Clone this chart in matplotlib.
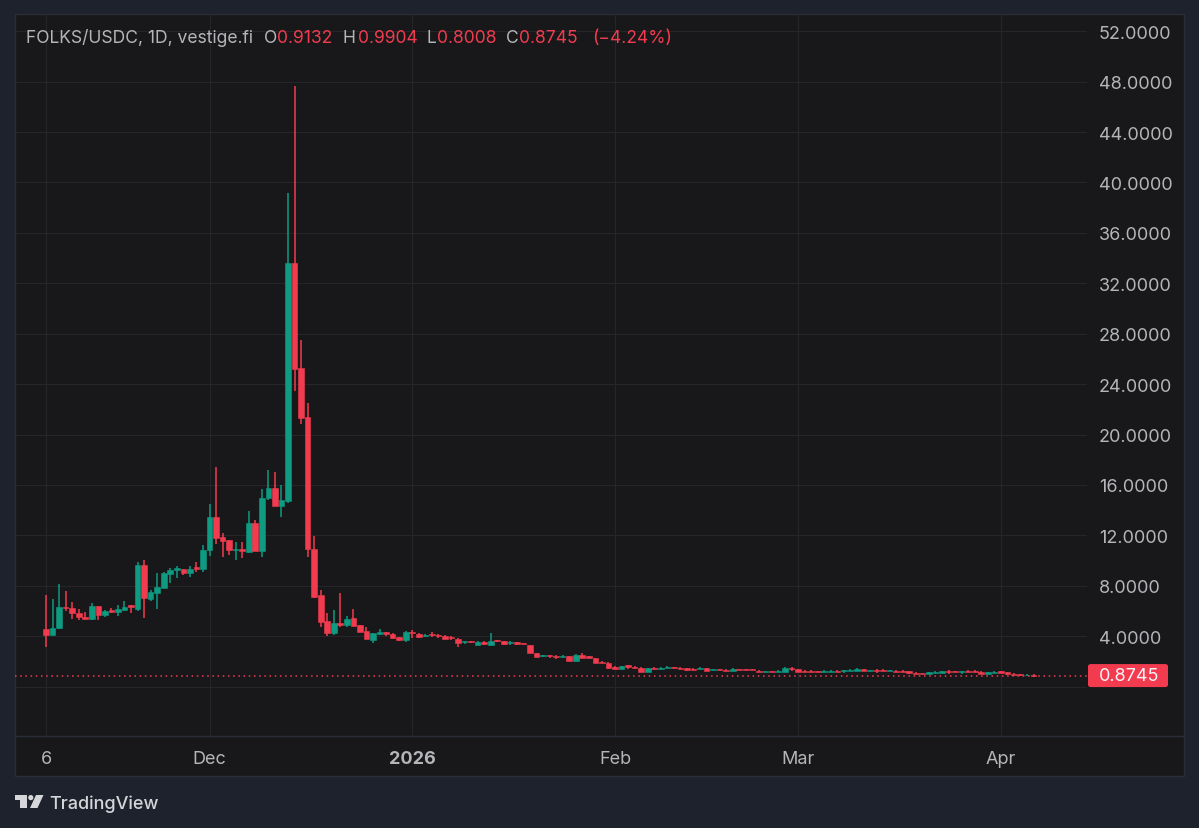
import numpy as np
import matplotlib.pyplot as plt
from matplotlib.patches import Rectangle, FancyBboxPatch, Polygon, Circle

plt.rcParams['font.family'] = ['Inter', 'DejaVu Sans']

# precios, un valor por dia desde el 6 de noviembre
aperturas = [4.60, 4.13, 4.63, 6.35, 6.24, 5.87, 5.56, 5.37, 6.40, 5.66, 6.08, 5.93, 6.08, 6.46, 6.16, 9.63,
             6.98, 7.43, 7.83, 8.94, 9.23, 9.37, 9.05, 9.47, 9.31, 10.82, 13.49, 11.85, 11.61, 10.82, 10.95, 10.69,
             13.02, 10.74, 14.95, 15.74, 14.31, 14.76, 33.63, 25.27, 21.43, 10.95, 7.25, 5.19, 4.23, 5.08, 4.92, 5.41,
             4.88, 4.45, 3.71, 4.16, 4.32, 4.19, 3.90, 3.71, 4.37, 4.19, 3.98, 4.21, 4.13, 3.98, 3.90, 3.79,
             3.50, 3.58, 3.34, 3.55, 3.34, 3.66, 3.58, 3.47, 3.50, 3.45, 3.29, 2.68, 2.42, 2.50, 2.42, 2.37,
             2.39, 2.07, 2.52, 2.39, 2.28, 1.99, 1.91, 1.52, 1.41, 1.70, 1.59, 1.51, 1.17, 1.51, 1.43, 1.46,
             1.56, 1.51, 1.46, 1.43, 1.43, 1.46, 1.33, 1.38, 1.35, 1.25, 1.43, 1.38, 1.38, 1.27, 1.17, 1.22,
             1.17, 1.19, 1.51, 1.41, 1.27, 1.27, 1.22, 1.19, 1.19, 1.27, 1.22, 1.25, 1.27, 1.38, 1.25, 1.35,
             1.33, 1.22, 1.27, 1.27, 1.22, 1.11, 1.09, 1.01, 1.11, 1.09, 1.27, 1.22, 1.17, 1.27, 1.27, 1.19,
             1.01, 1.11, 1.25, 1.14, 1.03, 0.98, 0.90, 0.9132]
cierres = [4.13, 4.66, 6.30, 6.24, 5.82, 5.50, 5.40, 6.40, 5.69, 5.98, 5.95, 6.14, 6.35, 6.32, 9.63, 7.04,
           7.49, 7.88, 9.00, 9.23, 9.39, 9.05, 9.37, 9.37, 10.82, 13.49, 11.83, 11.56, 10.80, 10.95, 10.77, 13.02,
           10.74, 15.00, 15.74, 14.34, 14.82, 33.63, 25.24, 21.35, 10.90, 7.14, 5.13, 4.23, 5.08, 4.90, 5.40, 4.82,
           4.37, 3.77, 4.24, 4.35, 4.19, 3.87, 3.71, 4.35, 4.24, 3.92, 4.13, 4.11, 4.05, 3.79, 3.82, 3.42,
           3.58, 3.50, 3.55, 3.37, 3.63, 3.58, 3.37, 3.55, 3.37, 3.40, 2.65, 2.34, 2.50, 2.42, 2.31, 2.45,
           2.05, 2.52, 2.28, 2.28, 1.89, 1.89, 1.44, 1.41, 1.65, 1.54, 1.46, 1.17, 1.46, 1.43, 1.51, 1.59,
           1.46, 1.41, 1.35, 1.35, 1.51, 1.27, 1.41, 1.30, 1.22, 1.43, 1.35, 1.30, 1.30, 1.17, 1.25, 1.14,
           1.27, 1.46, 1.38, 1.19, 1.19, 1.19, 1.14, 1.27, 1.27, 1.17, 1.33, 1.35, 1.38, 1.25, 1.33, 1.25,
           1.22, 1.30, 1.19, 1.19, 1.11, 1.03, 1.01, 1.17, 1.19, 1.25, 1.17, 1.14, 1.25, 1.19, 1.19, 1.03,
           1.14, 1.19, 1.11, 0.96, 0.93, 0.90, 0.95, 0.8745]
maximos = [7.25, 6.93, 8.17, 7.57, 6.75, 6.19, 5.93, 6.64, 6.40, 6.11, 6.27, 6.48, 6.83, 6.46, 9.87, 10.05,
           7.70, 9.05, 9.10, 9.44, 9.60, 9.37, 9.55, 9.92, 11.27, 14.52, 17.46, 12.22, 11.64, 11.46, 11.51, 13.92,
           13.25, 15.64, 17.22, 16.99, 16.00, 39.13, 47.68, 27.52, 22.49, 11.96, 7.65, 5.82, 6.09, 7.41, 5.61, 6.15,
           4.88, 4.69, 4.29, 4.56, 4.35, 4.24, 3.95, 4.45, 4.50, 4.29, 4.16, 4.35, 4.16, 4.08, 4.03, 3.85,
           3.60, 3.65, 3.58, 3.58, 4.24, 3.71, 3.60, 3.58, 3.50, 3.45, 3.34, 2.70, 2.52, 2.50, 2.50, 2.47,
           2.40, 2.58, 2.70, 2.39, 2.28, 2.00, 1.93, 1.60, 1.67, 1.75, 1.62, 1.53, 1.48, 1.53, 1.53, 1.64,
           1.58, 1.53, 1.51, 1.45, 1.53, 1.48, 1.43, 1.40, 1.37, 1.48, 1.43, 1.40, 1.40, 1.29, 1.27, 1.25,
           1.29, 1.59, 1.53, 1.43, 1.29, 1.29, 1.24, 1.29, 1.29, 1.29, 1.35, 1.37, 1.46, 1.40, 1.35, 1.38,
           1.40, 1.32, 1.29, 1.29, 1.24, 1.13, 1.11, 1.19, 1.21, 1.27, 1.29, 1.24, 1.27, 1.29, 1.29, 1.21,
           1.16, 1.21, 1.27, 1.16, 1.05, 1.00, 0.97, 0.9904]
minimos = [3.18, 4.13, 4.58, 6.03, 5.34, 5.32, 5.34, 5.32, 5.32, 5.53, 5.82, 5.64, 6.03, 5.82, 6.03, 5.42,
           6.83, 6.19, 7.83, 8.23, 8.65, 8.84, 8.70, 9.10, 9.13, 10.34, 11.35, 10.32, 10.45, 10.05, 10.24, 10.58,
           10.74, 10.27, 14.82, 14.34, 13.44, 14.58, 23.47, 20.82, 10.32, 7.04, 4.76, 3.99, 4.10, 4.76, 4.71, 4.77,
           4.37, 3.77, 3.47, 4.11, 4.03, 3.77, 3.60, 3.55, 3.87, 3.82, 3.95, 3.95, 3.82, 3.74, 3.66, 3.16,
           3.40, 3.45, 3.32, 3.34, 3.32, 3.50, 3.34, 3.34, 3.34, 3.40, 2.65, 2.32, 2.37, 2.26, 2.18, 2.34,
           2.03, 2.05, 2.26, 2.26, 1.87, 1.87, 1.42, 1.40, 1.39, 1.43, 1.44, 1.15, 1.15, 1.41, 1.41, 1.44,
           1.44, 1.39, 1.27, 1.33, 1.41, 1.25, 1.31, 1.28, 1.20, 1.23, 1.33, 1.28, 1.28, 1.15, 1.15, 1.12,
           1.15, 1.17, 1.27, 1.17, 1.17, 1.17, 1.12, 1.17, 1.17, 1.15, 1.06, 1.23, 1.25, 1.23, 1.23, 1.11,
           1.20, 1.20, 1.17, 1.17, 0.98, 1.01, 0.99, 0.99, 1.09, 1.07, 1.03, 1.12, 1.03, 1.17, 1.17, 1.01,
           0.99, 1.09, 1.09, 0.94, 0.91, 0.88, 0.88, 0.8008]

precios_eje = [4, 8, 12, 16, 20, 24, 28, 32, 36, 40, 44, 48, 52]
grilla_extra = [0]
dias_eje = [0, 25, 56, 87, 115, 146]
etiquetas_eje = ['6', 'Dec', '2026', 'Feb', 'Mar', 'Apr']
ultimo_precio = 0.8745

VERDE = '#0f9a82'
ROJO = '#f23b4f'
FONDO = '#1e222d'
PANEL = '#18181a'
GRILLA = '#262628'
BORDE = '#2a2d37'
TEXTO = '#b4b5b8'

fig = plt.figure(figsize=(11.99, 8.29), dpi=100, facecolor=FONDO)


def capa_pixeles(orden):
    # eje que cubre toda la figura, con coordenadas en pixeles de la imagen
    capa = fig.add_axes([0, 0, 1, 1], zorder=orden)
    capa.set_xlim(0, 1199)
    capa.set_ylim(829, 0)
    capa.axis('off')
    return capa


fondo = capa_pixeles(0)
fondo.add_patch(Rectangle((15, 15), 1169, 762, fc=PANEL, ec=BORDE, lw=1.0))
fondo.plot([15, 1184], [737, 737], color=BORDE, lw=1.0)

# zona de velas
ax = fig.add_axes([15 / 1199, 1 - 737 / 829, 1072 / 1199, 722 / 829], zorder=1)
ax.patch.set_alpha(0)
ax.set_xlim(-4.74, 159.17)
ax.set_ylim(-3.92, 53.37)
for lado in ax.spines.values():
    lado.set_visible(False)

ax.set_yticks(precios_eje)
ax.set_yticklabels([f'{p:.4f}' for p in precios_eje])
ax.yaxis.tick_right()
ax.set_xticks(dias_eje)
ax.set_xticklabels(etiquetas_eje)
ax.tick_params(axis='both', length=0, colors=TEXTO, labelsize=13)
ax.tick_params(axis='y', pad=8.5)
ax.tick_params(axis='x', pad=10)
ax.get_xticklabels()[2].set_fontweight('bold')
ax.grid(True, color=GRILLA, lw=0.8)
ax.set_axisbelow(True)
for p in grilla_extra:
    ax.axhline(p, color=GRILLA, lw=0.8, zorder=0.5)

dias = np.arange(len(aperturas))
aperturas = np.array(aperturas)
cierres = np.array(cierres)
colores = [VERDE if c >= o else ROJO for o, c in zip(aperturas, cierres)]
bases = np.minimum(aperturas, cierres)
alturas = np.abs(cierres - aperturas)

ax.axhline(ultimo_precio, color=ROJO, lw=1.1, ls=(0, (1, 2.4)), zorder=1.5)
ax.vlines(dias, minimos, maximos, colors=colores, lw=1.1, zorder=2)
ax.bar(dias, alturas, bottom=bases, width=0.86, color=colores, edgecolor=colores, lw=0.4, zorder=3)

frente = capa_pixeles(2)
fy = ax.transData.transform((0, ultimo_precio))[1]
y_ultimo = 829 - fy
frente.add_patch(FancyBboxPatch((1088, y_ultimo - 11.5), 80, 23, boxstyle='round,pad=0,rounding_size=2.5',
                                fc=ROJO, ec='none'))
frente.text(1129, y_ultimo + 0.3, f'{ultimo_precio:.4f}', color='#f4f4f6', fontsize=13, ha='center', va='center')

# leyenda de arriba, con cada pedazo en su lugar
y_ley = 38
leyenda = [(26, 'FOLKS/USDC, 1D, vestige.fi', TEXTO), (264, 'O', TEXTO), (277, '0.9132', ROJO),
           (343, 'H', TEXTO), (358, '0.9904', ROJO), (427, 'L', TEXTO), (437, '0.8008', ROJO),
           (506, 'C', TEXTO), (519, '0.8745', ROJO), (592, '(−4.24%)', ROJO)]
for x, txt, col in leyenda:
    frente.text(x, y_ley, txt, color=col, fontsize=12.6, ha='left', va='center')

# logo de TradingView
frente.add_patch(Polygon([(15, 796), (27, 796), (27, 809), (20, 809), (20, 801), (15, 801)], fc='#d5d6da', ec='none'))
frente.add_patch(Circle((30.8, 798.6), 2.6, fc='#d5d6da', ec='none'))
frente.add_patch(Polygon([(36, 796), (43.5, 796), (37.5, 809), (30, 809)], fc='#d5d6da', ec='none'))
frente.text(49, 804, 'TradingView', color='#d5d6da', fontsize=13, fontweight='medium', ha='left', va='center')

plt.savefig('out.png', dpi=100, facecolor=FONDO)
